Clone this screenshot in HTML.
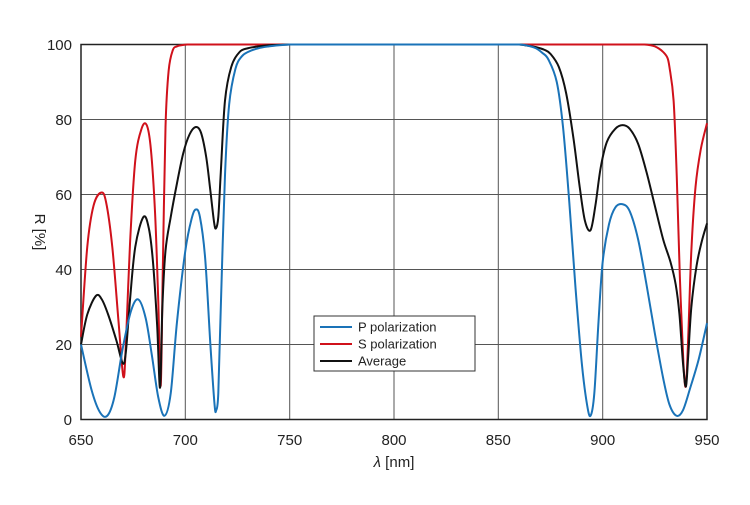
<!DOCTYPE html>
<html><head><meta charset="utf-8"><style>
html,body{margin:0;padding:0;background:#fff;}
svg text{font-family:"Liberation Sans",Arial,sans-serif;fill:#222;}
</style></head><body>
<svg id="s" width="750" height="500" xmlns="http://www.w3.org/2000/svg">
<rect width="750" height="500" fill="#fff"/>
<g stroke="#555" stroke-width="1">
<line x1="185.3" y1="44.5" x2="185.3" y2="419.5"/>
<line x1="289.7" y1="44.5" x2="289.7" y2="419.5"/>
<line x1="394" y1="44.5" x2="394" y2="419.5"/>
<line x1="498.3" y1="44.5" x2="498.3" y2="419.5"/>
<line x1="602.7" y1="44.5" x2="602.7" y2="419.5"/>
<line x1="81" y1="119.5" x2="707" y2="119.5"/>
<line x1="81" y1="194.5" x2="707" y2="194.5"/>
<line x1="81" y1="269.5" x2="707" y2="269.5"/>
<line x1="81" y1="344.5" x2="707" y2="344.5"/>
</g>
<rect x="81" y="44.5" width="626" height="375" fill="none" stroke="#222" stroke-width="1.5"/>
<g id="curves" fill="none" stroke-width="2" stroke-linejoin="round"></g>
<g font-size="15" text-anchor="end">
<text x="72" y="50">100</text><text x="72" y="125">80</text><text x="72" y="200">60</text>
<text x="72" y="275">40</text><text x="72" y="350">20</text><text x="72" y="425">0</text>
</g>
<g font-size="15" text-anchor="middle">
<text x="81" y="445">650</text><text x="185.3" y="445">700</text><text x="289.7" y="445">750</text>
<text x="394" y="445">800</text><text x="498.3" y="445">850</text><text x="602.7" y="445">900</text>
<text x="707" y="445">950</text>
<text x="394" y="467"><tspan font-style="italic">λ</tspan> [nm]</text>
<text transform="translate(35,232) rotate(90)">R [%]</text>
</g>
<rect x="314" y="316" width="161" height="55" fill="#fff" stroke="#333" stroke-width="1"/>
<g stroke-width="2">
<line x1="320" y1="327" x2="352" y2="327" stroke="#1a73b8"/>
<line x1="320" y1="344" x2="352" y2="344" stroke="#d0111b"/>
<line x1="320" y1="361" x2="352" y2="361" stroke="#111"/>
</g>
<g font-size="13">
<text x="358" y="331.5">P polarization</text>
<text x="358" y="348.5">S polarization</text>
<text x="358" y="365.5">Average</text>
</g>
</svg>
<script>
var P=[[650,20],[655,8],[659,2],[662.6,1],[666,6],[670,19],[674,29],[677.5,32],[681,27],[684,17],[687,6],[690,1],[693,7],[696,26],[700,45],[703,53.5],[705,56],[707,54],[709.5,43],[712,20],[714,4],[714.8,2.5],[715.8,7],[717,30],[719,65],[721,84],[724,93.5],[727,96.8],[730,98],[735,99],[740,99.5],[745,99.8],[750,100],[860,100],[864,99.7],[868,99],[871,97.8],[874,96],[878,90],[881,78],[884,58],[887,35],[890,15],[892.5,4],[894.2,1],[896,7],[898,26],[900,42],[903,52],[906,56.5],[909.6,57.4],[913,55.5],[917,48],[921,36],[925,23],[929,11],[932,4],[935.4,1],[938.5,2.5],[942,8.5],[946,16],[950,25.7]];
var S=[[650,22],[653,46],[656,57],[659.6,60.5],[662,58],[665,46],[668,26],[670.3,11.4],[671.5,20],[673.5,47],[676,69],[679,77.5],[681.5,78.5],[683.5,72],[685.5,55],[687,32],[688.2,9],[689.2,40],[690.5,78],[692,93],[694,98.5],[696,99.5],[698,99.8],[701,100],[920,100],[923,99.8],[925,99.5],[927,98.9],[929,98],[931,96.5],[932,94],[934,85],[935.5,65],[937,38],[938.7,15],[939.9,9],[941,22],[942.5,45],[944.5,62],[947,72],[950,79]];
var A=[[650,20],[653,28],[657.2,33],[660,32],[663,28],[667,21],[670,15],[671.5,18],[673.5,32],[676,46],[679.9,54],[682.5,51],[684.5,42],[686.5,25],[687.9,8.5],[689,30],[690.5,45],[693,54],[696,63],[699,71],[702,76],[705,78],[707.5,76.5],[710,70],[712,61],[713.8,52.5],[714.7,51],[715.8,54],[717,66],[719,85],[722,94],[726,98],[730,99],[735,99.5],[740,99.8],[750,100],[860,100],[864,99.7],[868,99.3],[872,98.6],[875,97.5],[879,94],[882.5,87],[886,75],[889,62],[891.5,53],[894.2,50.5],[896.5,57],[899,67],[902,74],[906,77.5],[909.6,78.5],[913,77.5],[917,73.5],[921,66],[925,57],[929,48],[932.5,42],[935,36],[936.8,28],[938.5,15],[939.9,8.8],[941,17],[942.5,30],[945,41],[947.5,47.5],[950,52.3]];
function densify(pts){
 var out=[];
 for(var i=0;i<pts.length;i++){
  out.push(pts[i]);
  if(i<pts.length-1){
   var a=pts[i],b=pts[i+1];
   if(b[0]-a[0]>6){
    var n=Math.ceil((b[0]-a[0])/5);
    for(var k=1;k<n;k++){out.push([a[0]+(b[0]-a[0])*k/n,a[1]+(b[1]-a[1])*k/n]);}
   }
  }
 }
 return out;
}
function X(v){return 81+(v-650)*626/300;}
function Y(v){return 419.5-v*3.75;}
function cl(v,a,b){return Math.max(Math.min(a,b),Math.min(Math.max(a,b),v));}
function path(pts){
 var p=densify(pts).map(function(a){return [X(a[0]),Y(a[1])];});
 var d="M"+p[0][0].toFixed(2)+","+p[0][1].toFixed(2);
 for(var i=0;i<p.length-1;i++){
  var p0=p[i>0?i-1:i],p1=p[i],p2=p[i+1],p3=p[i+2<p.length?i+2:i+1];
  var c1=[p1[0]+(p2[0]-p0[0])/6,p1[1]+(p2[1]-p0[1])/6];
  var c2=[p2[0]-(p3[0]-p1[0])/6,p2[1]-(p3[1]-p1[1])/6];
  c1[0]=cl(c1[0],p1[0],p2[0]);c2[0]=cl(c2[0],p1[0],p2[0]);
  c1[1]=Math.max(44.5,c1[1]);c2[1]=Math.max(44.5,c2[1]);
  c1[1]=Math.min(419.5,c1[1]);c2[1]=Math.min(419.5,c2[1]);
  d+="C"+c1[0].toFixed(2)+","+c1[1].toFixed(2)+" "+c2[0].toFixed(2)+","+c2[1].toFixed(2)+" "+p2[0].toFixed(2)+","+p2[1].toFixed(2);
 }
 return d;
}
var g=document.getElementById("curves");
[[S,"#d0111b"],[A,"#111"],[P,"#1a73b8"]].forEach(function(c){
 var e=document.createElementNS("http://www.w3.org/2000/svg","path");
 e.setAttribute("d",path(c[0]));e.setAttribute("stroke",c[1]);g.appendChild(e);
});
</script>
</body></html>
